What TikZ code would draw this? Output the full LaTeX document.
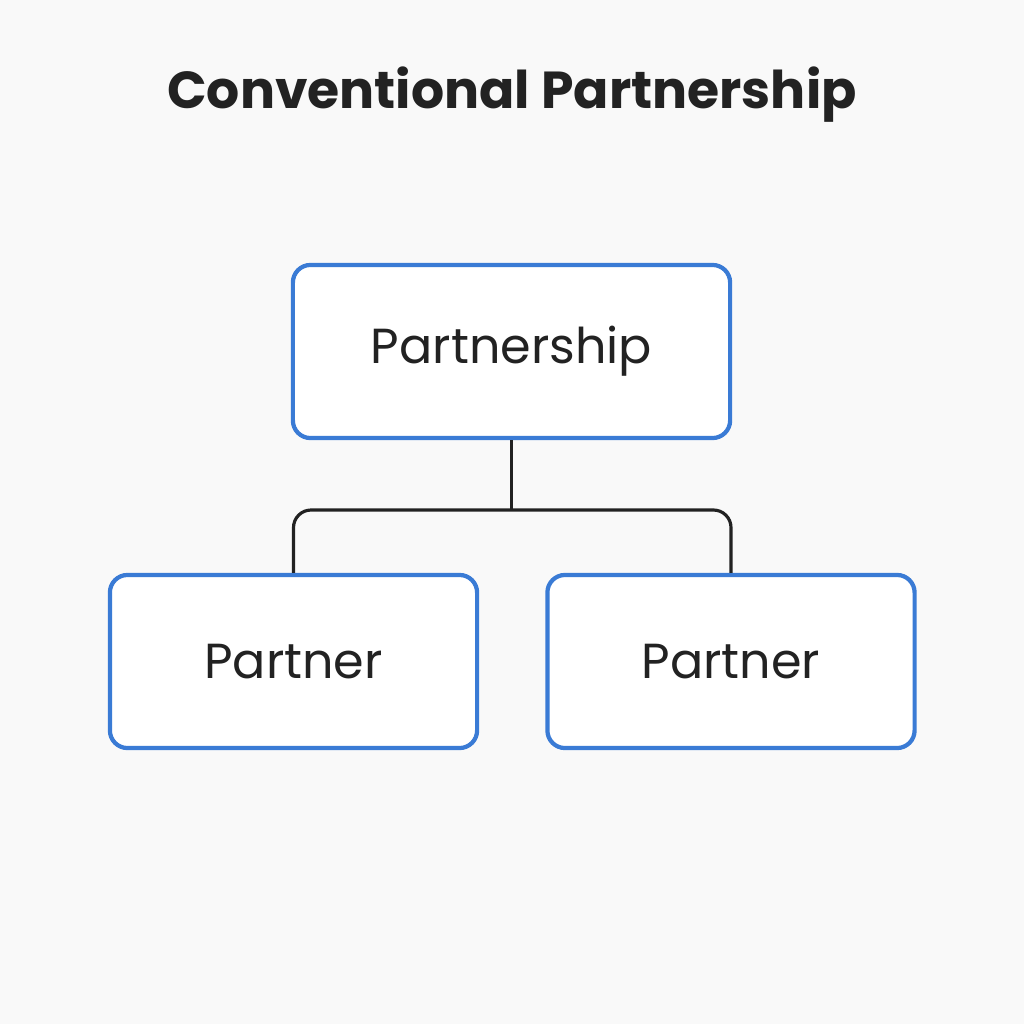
\documentclass[tikz,border=0pt]{standalone}
\usepackage{fontspec}
\setmainfont{Poppins}
\usetikzlibrary{positioning}
\definecolor{boxblue}{HTML}{3A7BD5}
\definecolor{inkgray}{HTML}{222222}
\begin{document}
\begin{tikzpicture}[
  x=0.01cm, y=-0.01cm,
  every node/.style = {
    text=inkgray,
    inner sep=0pt
  },
  orgbox/.style = {
    draw=boxblue,
    line width=1.2pt,
    rounded corners=5pt,
    fill=white,
    minimum height=1.73cm,
    font=\fontsize{14}{16}\selectfont
  },
  link/.style = {draw=inkgray, line width=0.9pt, rounded corners=5pt}
]
    \fill[white!97.5!black] (0,0) rectangle (1024,1024);
    \useasboundingbox (0,0) rectangle (1024,1024);
    \node[font=\fontsize{14.8}{18}\selectfont\bfseries] (title) at (512,95) {Conventional Partnership};
    \node[orgbox, minimum width=4.37cm] (firm) at (511.5,351.5) {Partnership};
    \node[orgbox, minimum width=3.67cm] (pa) at (293.5,661.5) {Partner};
    \node[orgbox, minimum width=3.67cm] (pb) at (731,661.5) {Partner};
    \coordinate (junc) at (firm.south |- 0,510);
    \path[link] (firm.south) -- (junc);
    \path[link] (pa.north) |- (junc) -| (pb.north);
\end{tikzpicture}
\end{document}
